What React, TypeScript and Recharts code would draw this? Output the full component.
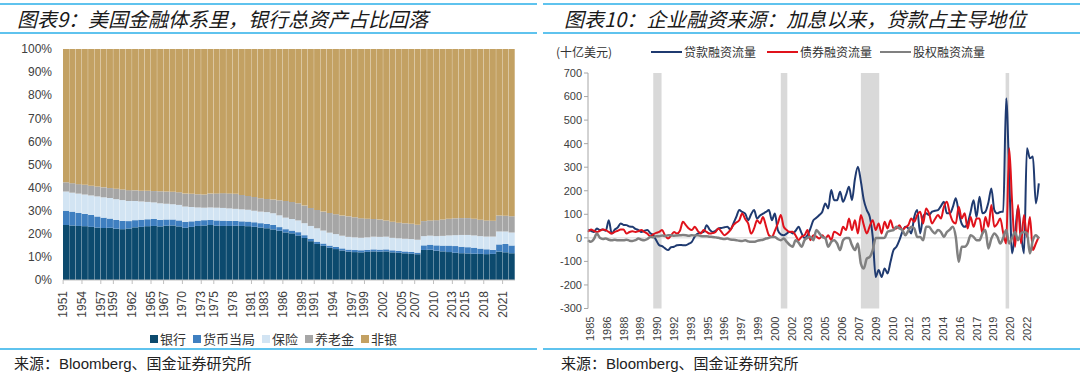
import { BarChart, Bar, XAxis, YAxis, LineChart, Line, ReferenceArea, ReferenceLine } from 'recharts';

// ---- 图表9：资产占比（%），1951-2022，年度 ----
const years = Array.from({ length: 72 }, (_, i) => String(1951 + i));
const yearTickLabels = ['1951', '1954', '1957', '1959', '1962', '1965', '1967', '1970', '1973', '1975', '1978', '1981', '1983', '1986', '1989', '1991', '1994', '1997', '1999', '2002', '2005', '2007', '2010', '2013', '2015', '2018', '2021'];
const shareTicks = [0, 0.1, 0.2, 0.3, 0.4, 0.5, 0.6, 0.7, 0.8, 0.9, 1];

const bankShare = [
  23.8, 23.6, 23.4, 23.3, 23.0, 22.7, 22.5, 22.6, 22.2, 22.0,
  22.3, 22.8, 23.0, 23.3, 23.4, 23.2, 23.5, 23.6, 23.2, 22.6,
  23.0, 23.4, 23.6, 23.8, 23.5, 23.4, 23.4, 23.5, 23.4, 23.3,
  23.1, 22.7, 22.4, 21.9, 21.3, 20.6, 20.2, 19.3, 18.2, 16.8,
  15.6, 14.8, 14.0, 13.4, 12.8, 12.3, 12.1, 12.0, 12.2, 12.4,
  12.3, 12.4, 12.0, 11.8, 11.6, 11.4, 11.2, 13.0, 13.1, 12.7,
  12.4, 12.1, 11.8, 11.6, 11.5, 11.4, 11.3, 11.2, 11.3, 12.3,
  12.0, 11.6,
];
const fedShare = [
  6.2, 6.0, 5.6, 5.3, 5.2, 4.8, 4.5, 4.0, 3.8, 3.6,
  3.2, 3.1, 3.1, 3.0, 3.0, 2.8, 2.7, 2.6, 2.6, 2.5,
  2.4, 2.3, 2.3, 2.2, 2.3, 2.3, 2.2, 2.1, 2.0, 2.0,
  1.9, 1.9, 1.9, 1.9, 1.6, 1.4, 1.2, 1.4, 1.2, 1.1,
  1.0, 1.0, 0.9, 0.9, 0.9, 0.9, 0.9, 0.9, 0.9, 0.9,
  0.9, 0.9, 0.9, 0.8, 0.8, 0.8, 0.7, 2.0, 2.2, 2.3,
  2.5, 2.8, 2.9, 2.8, 2.7, 2.6, 2.3, 2.1, 1.7, 3.1,
  3.6, 3.3,
];
const insuranceShare = [
  8.3, 8.2, 8.4, 8.4, 8.4, 8.7, 8.8, 8.9, 9.0, 9.0,
  8.7, 8.3, 7.9, 7.5, 7.2, 7.2, 6.8, 6.6, 6.7, 6.7,
  6.2, 5.7, 5.4, 5.4, 5.5, 5.5, 5.4, 5.2, 5.2, 5.1,
  5.0, 5.0, 5.1, 5.1, 5.1, 5.0, 5.0, 5.1, 5.2, 5.5,
  5.8, 5.6, 5.6, 5.6, 5.5, 5.5, 5.5, 5.4, 5.4, 5.5,
  5.5, 5.5, 5.4, 5.5, 5.5, 5.6, 5.6, 4.0, 3.9, 4.0,
  4.2, 4.4, 4.7, 5.1, 5.3, 5.3, 5.4, 5.5, 5.8, 5.6,
  5.4, 5.7,
];
const pensionShare = [
  4.0, 4.1, 4.1, 4.2, 4.2, 4.3, 4.3, 4.3, 4.5, 4.6,
  4.7, 4.6, 4.6, 4.8, 4.9, 5.2, 5.3, 5.4, 5.5, 5.6,
  5.7, 5.7, 5.7, 6.0, 6.2, 6.4, 6.5, 6.5, 6.2, 6.0,
  5.9, 5.8, 5.7, 5.9, 6.5, 7.2, 7.4, 7.4, 7.6, 7.8,
  7.9, 8.2, 8.5, 8.6, 8.7, 8.9, 8.7, 8.5, 8.1, 7.7,
  7.5, 7.0, 7.0, 6.8, 6.7, 6.6, 6.5, 6.5, 6.6, 6.9,
  7.1, 7.2, 7.3, 7.3, 7.3, 7.2, 7.1, 7.0, 6.9, 6.9,
  6.8, 7.0,
];
const nonBankShare = [
  57.7, 58.1, 58.5, 58.8, 59.2, 59.5, 59.9, 60.2, 60.5, 60.8,
  61.1, 61.2, 61.4, 61.4, 61.5, 61.6, 61.7, 61.8, 62.0, 62.6,
  62.7, 62.9, 63.0, 62.6, 62.5, 62.4, 62.5, 62.7, 63.2, 63.6,
  64.1, 64.6, 64.9, 65.2, 65.5, 65.8, 66.2, 66.8, 67.8, 68.8,
  69.7, 70.4, 71.0, 71.6, 72.2, 72.6, 73.0, 73.4, 73.6, 73.7,
  74.0, 74.4, 75.0, 75.4, 75.7, 76.0, 76.4, 74.5, 74.2, 74.1,
  73.8, 73.5, 73.3, 73.2, 73.2, 73.5, 73.9, 74.2, 74.3, 72.1,
  72.2, 72.4,
];

// ---- 图表10：融资流量（十亿美元），1985Q1-2023Q1，季度 ----
const loanFlow = [
  35, 30, 25, 40, 33, 35, 30, 75, 18, 35, 44, 61, 55, 54, 48, 47,
  38, 33, 25, 30, 33, 20, 11, -10, -31, -35, -45, -52, -40, -38, -31, -30,
  -31, -31, -25, -17, 5, 18, 22, 25, 54, 35, 25, 30, 40, 42, 45, 47,
  35, 60, 89, 118, 110, 103, 75, 100, 118, 82, 95, 103, 110, 118, 75, 103,
  33, 15, 11, 18, 26, 19, 30, 47, 20, -1, 11, 40, 75, 85, 97, 111,
  146, 125, 203, 160, 160, 196, 153, 182, 217, 160, 250, 302, 240, 160, 118, 89,
  4, -166, -137, -166, -130, -151, -102, -52, -38, -10, 26, 47, 40, 19, 89, 118,
  19, 90, 104, 97, 111, 115, 118, 135, 153, 104, 104, 130, 168, 110, 60, 47,
  61, 110, 160, 89, 174, 104, 111, 150, 210, 118, 104, 110, 111, 593, 274, -66,
  19, 132, 20, -66, 380, 338, 345, 146, 231,
];
const bondFlow = [
  25, 35, 30, 25, 30, 35, 33, 25, 18, 25, 30, 35, 35, 18, 25, 28,
  25, 28, 33, 25, 18, 7, 15, 21, 25, 33, 10, -3, 10, 25, 18, 30,
  68, 54, 40, 33, 47, 30, 18, 33, 25, 18, 20, 25, 40, 25, 11, 20,
  33, 54, 65, 75, 103, 80, 61, 18, 40, 75, 61, 89, 50, 11, 4, 30,
  61, 97, 47, 33, 25, 26, 10, -10, 5, 11, 33, -10, 11, 5, -3, 11,
  -3, 11, -10, 26, 20, 11, 47, 33, 82, 33, 75, 19, 97, 54, 19, 50,
  75, 33, 61, 19, 68, 40, 75, 40, 40, 54, 33, 45, 54, 82, 68, 97,
  111, 61, 125, 104, 61, 80, 97, 82, 132, 153, 104, 70, 61, 132, 82, 104,
  40, 89, 47, 82, 82, 19, 89, 47, 139, 47, 60, 82, 20, -24, 380, 150,
  -38, 139, -24, 97, 4, 89, -52, -24, 5,
];
const equityFlow = [
  -10, -17, -5, 18, 0, -5, -3, -8, -10, -8, -10, -10, -10, -8, -12, -13,
  -10, -3, -8, -10, -5, 4, 2, 7, 7, 10, 8, 11, 11, 9, 10, 11,
  12, 11, 9, 11, 10, 11, 8, 7, 7, 5, 4, 2, 0, -3, -5, -3,
  -7, -8, -10, -12, -13, -10, -15, -17, -17, -13, -10, -8, -3, 0, 4, 4,
  -5, -10, -3, -17, -30, -38, -10, -20, -38, -10, 0, 5, -10, 33, 19, 4,
  -1, -38, -17, -10, -24, -52, -10, -1, -1, -31, -52, -24, -109, -130, -88, -81,
  -52, -1, -1, -1, 0, 26, 30, 33, 47, 40, 33, 11, 30, 47, 40, 4,
  4, -10, 47, 47, 30, 19, 33, 25, 4, 25, 35, 47, 4, -102, -38, -38,
  -24, 11, 4, -10, -10, 19, 33, -45, -3, 19, 5, -24, 0, 33, -24, 0,
  25, -10, 19, 25, 20, -66, -10, 11, -3,
];
const flowTicks = [-300, -200, -100, 0, 100, 200, 300, 400, 500, 600, 700];
const quarterTickPos = [1985.17, 1986.58, 1988.0, 1989.42, 1990.83, 1992.25, 1993.67, 1995.08, 1996.5, 1997.92, 1999.33, 2000.75, 2002.17, 2003.58, 2005.0, 2006.42, 2007.83, 2009.25, 2010.67, 2012.08, 2013.5, 2014.92, 2016.33, 2017.75, 2019.17, 2020.58, 2022.0];
const quarterTickLabels = ['1985', '1986', '1988', '1989', '1990', '1992', '1993', '1995', '1996', '1997', '1999', '2000', '2002', '2003', '2005', '2006', '2007', '2009', '2010', '2012', '2013', '2014', '2016', '2017', '2019', '2020', '2022'];
const recessionStart = [1990.5, 2001.25, 2008.0, 2020.2];
const recessionEnd = [1991.2, 2001.8, 2009.55, 2020.5];

const shareData = years.map((y, i) => ({
  year: y,
  bank: bankShare[i],
  fed: fedShare[i],
  insurance: insuranceShare[i],
  pension: pensionShare[i],
  nonbank: nonBankShare[i],
}));

const flowData = loanFlow.map((v, i) => ({
  t: 1985 + i * 0.25,
  loan: v,
  bond: bondFlow[i],
  equity: equityFlow[i],
}));

const LATIN = "'Liberation Sans', Arial, 'Noto Sans CJK SC', sans-serif";
const CJK = "'Noto Sans CJK SC', 'Liberation Sans', sans-serif";
const RULE = '#5FC3EE';

const leftSeries = [
  { key: 'bank', name: '银行', color: '#0C4A6E' },
  { key: 'fed', name: '货币当局', color: '#3F7FC0' },
  { key: 'insurance', name: '保险', color: '#D2E4F3' },
  { key: 'pension', name: '养老金', color: '#A6A6A6' },
  { key: 'nonbank', name: '非银', color: '#C3A163' },
];

const rightSeries = [
  { key: 'loan', name: '贷款融资流量', color: '#1F3A70', width: 2 },
  { key: 'bond', name: '债券融资流量', color: '#E0121B', width: 2 },
  { key: 'equity', name: '股权融资流量', color: '#808080', width: 2.5 },
];

const YearTick = ({ x, y, payload }: any) => {
  const cx = x - 3;
  return (
    <g>
      <line x1={cx} x2={cx} y1={y - 8} y2={y - 4} stroke="#BFBFBF" />
      <text
        x={cx}
        y={y + 3}
        transform={`rotate(-90 ${cx} ${y + 3})`}
        textAnchor="end"
        dominantBaseline="central"
        fontSize={12}
        fontFamily={LATIN}
        fill="#404040"
      >
        {payload.value}
      </text>
    </g>
  );
};

const QuarterTick = ({ x, y, payload }: any) => {
  const label = quarterTickLabels[quarterTickPos.indexOf(payload.value)];
  return (
    <text
      x={x}
      y={y}
      transform={`rotate(-90 ${x} ${y})`}
      textAnchor="end"
      dominantBaseline="central"
      fontSize={11}
      fontFamily={LATIN}
      fill="#404040"
    >
      {label}
    </text>
  );
};

const Title = ({ left, text }: { left: number; text: string }) => (
  <div
    style={{
      position: 'absolute',
      left,
      top: 7,
      fontFamily: CJK,
      fontSize: 20,
      fontStyle: 'italic',
      lineHeight: '24px',
      color: '#1a1a1a',
      whiteSpace: 'nowrap',
    }}
  >
    {text}
  </div>
);

const Rule = ({ left, width, top }: { left: number; width: number; top: number }) => (
  <div style={{ position: 'absolute', left, width, top, height: 2, background: RULE }} />
);

const Source = ({ left }: { left: number }) => (
  <div
    style={{
      position: 'absolute',
      left,
      top: 355,
      fontFamily: LATIN,
      fontSize: 15,
      lineHeight: '18px',
      color: '#222',
      whiteSpace: 'nowrap',
    }}
  >
    来源：Bloomberg、国金证券研究所
  </div>
);

export default function App() {
  return (
    <div style={{ position: 'fixed', left: 0, top: 0, width: 1080, height: 377, background: '#fff', overflow: 'hidden' }}>
      <div style={{ position: 'absolute', left: 0, top: 0 }}>
        <BarChart
          width={540}
          height={377}
          data={shareData}
          stackOffset="expand"
          barCategoryGap={0}
          margin={{ top: 49, right: 25, bottom: 37, left: 13 }}
        >
          <XAxis
            dataKey="year"
            ticks={yearTickLabels}
            interval={0}
            height={60}
            tickLine={false}
            axisLine={{ stroke: '#BFBFBF' }}
            tick={<YearTick />}
          />
          <YAxis
            width={50}
            ticks={shareTicks}
            domain={[0, 1]}
            axisLine={false}
            tickLine={false}
            tickMargin={5}
            tick={{ fontSize: 12, fill: '#404040', fontFamily: LATIN }}
            tickFormatter={(v: number) => `${Math.round(v * 100)}%`}
          />
          {leftSeries.map((s) => (
            <Bar key={s.key} dataKey={s.key} name={s.name} stackId="a" fill={s.color} isAnimationActive={false} />
          ))}
        </BarChart>
      </div>

      <div style={{ position: 'absolute', left: 540, top: 0 }}>
        <LineChart width={540} height={377} data={flowData} margin={{ top: 73, right: 40, bottom: 28.5, left: 8 }}>
          {recessionStart.map((x1, i) => (
            <ReferenceArea key={x1} x1={x1} x2={recessionEnd[i]} y1={-300} y2={700} fill="#D9D9D9" fillOpacity={1} stroke="none" />
          ))}
          <ReferenceLine y={0} stroke="#D9D9D9" strokeWidth={1} />
          <XAxis
            dataKey="t"
            type="number"
            domain={[1985, 2023.1]}
            ticks={quarterTickPos}
            interval={0}
            height={40}
            axisLine={false}
            tickLine={false}
            tick={<QuarterTick />}
          />
          <YAxis
            width={40}
            domain={[-300, 700]}
            ticks={flowTicks}
            interval={0}
            axisLine={{ stroke: '#A6A6A6' }}
            tickLine={{ stroke: '#A6A6A6' }}
            tickSize={4}
            tickMargin={2}
            tick={{ fontSize: 11, fill: '#404040', fontFamily: LATIN }}
          />
          {rightSeries.map((s) => (
            <Line
              key={s.key}
              type="monotone"
              dataKey={s.key}
              name={s.name}
              stroke={s.color}
              strokeWidth={s.width}
              dot={false}
              isAnimationActive={false}
            />
          ))}
        </LineChart>
      </div>

      {/* 标题与分隔线 */}
      <Rule left={0} width={537} top={3} />
      <Rule left={0} width={537} top={32} />
      <Rule left={543} width={537} top={3} />
      <Rule left={543} width={537} top={32} />
      <Title left={17} text="图表9：美国金融体系里，银行总资产占比回落" />
      <Title left={564} text="图表10：企业融资来源：加息以来，贷款占主导地位" />

      {/* 左图图例 */}
      <div
        style={{
          position: 'absolute',
          left: 150,
          top: 331,
          display: 'flex',
          gap: 7,
          fontFamily: CJK,
          fontSize: 13,
          lineHeight: '16px',
          color: '#333',
          whiteSpace: 'nowrap',
        }}
      >
        {leftSeries.map((s) => (
          <span key={s.key} style={{ display: 'flex', alignItems: 'center' }}>
            <span style={{ display: 'inline-block', width: 8, height: 8, background: s.color, marginRight: 2 }} />
            {s.name}
          </span>
        ))}
      </div>

      {/* 右图单位与图例 */}
      <div style={{ position: 'absolute', left: 556, top: 44, fontFamily: CJK, fontSize: 12, lineHeight: '16px', color: '#333' }}>
        (十亿美元)
      </div>
      {rightSeries.map((s, i) => {
        const lefts = [651, 767, 880];
        return (
          <div key={s.key} style={{ position: 'absolute', left: lefts[i], top: 44, display: 'flex', alignItems: 'center', fontFamily: CJK, fontSize: 12, lineHeight: '16px', color: '#333', whiteSpace: 'nowrap' }}>
            <span style={{ display: 'inline-block', width: 31, height: 2, background: s.color, marginRight: 2 }} />
            {s.name}
          </div>
        );
      })}

      {/* 来源 */}
      <Rule left={0} width={537} top={348} />
      <Rule left={543} width={537} top={348} />
      <Source left={14} />
      <Source left={561} />
    </div>
  );
}
